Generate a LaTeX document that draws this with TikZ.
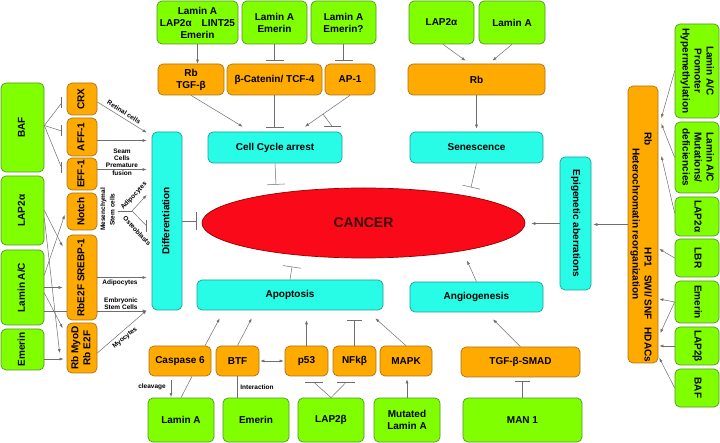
\documentclass[tikz,border=0pt]{standalone}
\usepackage{fontspec}
\setmainfont{Liberation Sans}
\usetikzlibrary{arrows.meta,calc,shapes.geometric}
\definecolor{gfill}{RGB}{128,255,0}
\definecolor{gdraw}{RGB}{85,150,40}
\definecolor{ofill}{RGB}{255,170,0}
\definecolor{odraw}{RGB}{170,115,30}
\definecolor{cfill}{RGB}{40,252,230}
\definecolor{cdraw}{RGB}{30,160,150}
\definecolor{rfill}{RGB}{250,10,25}
\definecolor{rdraw}{RGB}{150,0,0}
\definecolor{lcol}{RGB}{110,110,110}
\definecolor{ctext}{RGB}{60,10,10}
\newcommand{\RotL}[1]{\rotatebox{90}{\begin{tabular}{@{}c@{}}#1\end{tabular}}}
\newcommand{\RotR}[1]{\rotatebox{-90}{\begin{tabular}{@{}c@{}}#1\end{tabular}}}
\begin{document}
\begin{tikzpicture}[x=1pt,y=-1pt,
  box/.style={rounded corners=5pt, line width=0.7pt, inner sep=1pt, align=center,
    font=\fontsize{10}{12}\selectfont\bfseries, text=black},
  gbox/.style={box, fill=gfill, draw=gdraw},
  obox/.style={box, fill=ofill, draw=odraw},
  cbox/.style={box, fill=cfill, draw=cdraw},
  txt/.style={inner sep=0pt, font=\fontsize{10}{12}\selectfont\bfseries},
  lbl/.style={inner sep=0pt, align=center, font=\fontsize{6.5}{7.2}\selectfont\bfseries},
  conn/.style={draw=lcol, line width=0.5pt},
  arr/.style={conn, -{Latex[length=4pt,width=3pt]}},
  arrb/.style={conn, {Latex[length=4pt,width=3pt]}-{Latex[length=4pt,width=3pt]}},
  inh/.style={conn, -{Bar[width=18pt]}},
  inhs/.style={conn, -{Bar[width=15pt]}}]
\fill[white] (0,0) rectangle (720,443);
\useasboundingbox (0,0) rectangle (720,443);

% ---- top row
\node[gbox, minimum width=81pt, minimum height=43pt] (g1) at (197.5,22.5) {Lamin A\\LAP2α\quad LINT25\\Emerin};
\node[gbox, minimum width=65pt, minimum height=43pt] (g2) at (274.5,22.5) {Lamin A\\Emerin};
\node[gbox, minimum width=65pt, minimum height=43pt] (g3) at (343.5,22.5) {Lamin A\\Emerin?};
\node[gbox, minimum width=65pt, minimum height=43pt] (g4) at (441.5,22.5) {LAP2α};
\node[gbox, minimum width=66pt, minimum height=43pt] (g5) at (512,22.5) {Lamin A};

\node[obox, minimum width=66pt, minimum height=31pt] (o1) at (191,79.5) {Rb\\TGF-β};
\node[obox, minimum width=95pt, minimum height=31pt] (o2) at (274.5,79.5) {β-Catenin/ TCF-4};
\node[obox, minimum width=50pt, minimum height=31pt] (o3) at (350,79.5) {AP-1};
\node[obox, minimum width=137pt, minimum height=31pt] (o4) at (476.5,79.5) {Rb};

% ---- cyan processes
\node[cbox, minimum width=134pt, minimum height=31pt] (cca) at (275,147.5) {Cell Cycle arrest};
\node[cbox, minimum width=133pt, minimum height=31pt] (sen) at (476.5,147.5) {Senescence};
\node[cbox, minimum width=30pt, minimum height=178pt] (diff) at (167,221) {\RotL{Differentiation}};
\node[cbox, minimum width=31pt, minimum height=133pt] (epi) at (575.5,223.5) {\RotR{Epigenetic aberrations}};
\node[cbox, minimum width=186pt, minimum height=30pt] (apo) at (290,295) {Apoptosis};
\node[cbox, minimum width=133pt, minimum height=30pt] (ang) at (476.5,297) {Angiogenesis};

\node[ellipse, fill=rfill, draw=rdraw, line width=0.7pt, minimum width=323pt, minimum height=70pt, inner sep=0pt,
  font=\fontsize{14}{16}\selectfont\bfseries, text=ctext] (cancer) at (363.5,223) {CANCER};

% ---- bottom
\node[obox, minimum width=62pt, minimum height=30pt] (cas) at (180,361) {Caspase 6};
\node[obox, minimum width=43pt, minimum height=30pt] (btf) at (237.5,361) {BTF};
\node[obox, minimum width=43pt, minimum height=30pt] (p53) at (306.5,361) {p53};
\node[obox, minimum width=43pt, minimum height=30pt] (nfk) at (354.5,361) {NFkβ};
\node[obox, minimum width=52pt, minimum height=30pt] (mapk) at (406,361) {MAPK};
\node[obox, minimum width=119pt, minimum height=30pt] (tgf) at (520.5,362) {TGF-β-SMAD};

\node[gbox, minimum width=66pt, minimum height=44pt] (bla) at (181,420) {Lamin A};
\node[gbox, minimum width=66pt, minimum height=44pt] (bem) at (256,420) {Emerin};
\node[gbox, minimum width=66pt, minimum height=44pt] (bl2b) at (331,420) {LAP2β};
\node[gbox, minimum width=66pt, minimum height=44pt] (bmut) at (407,420) {Mutated\\Lamin A};
\node[gbox, minimum width=119pt, minimum height=44pt] (man) at (522.5,420) {MAN 1};

% ---- left
\node[gbox, minimum width=43pt, minimum height=89pt] (lbaf) at (22.5,127.5) {\RotL{BAF}};
\node[gbox, minimum width=43pt, minimum height=69pt] (llap) at (22.5,210.5) {\RotL{LAP2α}};
\node[gbox, minimum width=43pt, minimum height=75pt] (llac) at (22.5,287.5) {\RotL{Lamin A/C}};
\node[gbox, minimum width=43pt, minimum height=41pt] (lem) at (22.5,349.5) {\RotL{Emerin}};

\node[obox, minimum width=30pt, minimum height=32pt] (crx) at (82,99) {\RotL{CRX}};
\node[obox, minimum width=30pt, minimum height=38pt] (aff) at (82,137) {\RotL{AFF-1}};
\node[obox, minimum width=30pt, minimum height=32pt] (eff) at (82,174) {\RotL{EFF-1}};
\node[obox, minimum width=30pt, minimum height=37pt] (notch) at (82,211.5) {\RotL{Notch}};
\node[obox, minimum width=30pt, minimum height=85pt] (srebp) at (82,277.5) {\RotL{RbE2F SREBP-1}};
\node[obox, minimum width=30pt, minimum height=50pt] (myod) at (82,348) {\RotL{Rb MyoD\\Rb E2F}};

% ---- right
\node[gbox, minimum width=44pt, minimum height=94pt] (r1) at (697,71) {\RotR{Lamin A/C\\Promoter\\Hypermethylation}};
\node[gbox, minimum width=44pt, minimum height=71pt] (r2) at (697,157.5) {\RotR{Lamin A/C\\Mutations/\\deficiencies}};
\node[gbox, minimum width=44pt, minimum height=39pt] (r3) at (697,216.5) {\RotR{LAP2α}};
\node[gbox, minimum width=44pt, minimum height=38pt] (r4) at (697,258) {\RotR{LBR}};
\node[gbox, minimum width=44pt, minimum height=42pt] (r5) at (697,302) {\RotR{Emerin}};
\node[gbox, minimum width=44pt, minimum height=38pt] (r6) at (697,346) {\RotR{LAP2β}};
\node[gbox, minimum width=44pt, minimum height=38pt] (r7) at (697,388) {\RotR{BAF}};

\node[obox, minimum width=30pt, minimum height=277pt] (rtall) at (643,224.5) {};
\node[txt] (rtrb) at (647,139) {\RotR{Rb}};
\node[txt] (rthet) at (635,224) {\RotR{Heterochromatin reorganization}};
\node[txt] (rthp) at (647,305) {\RotR{HP1\hspace{8pt}SWI/ SNF\hspace{8pt}HDACs}};

% ---- labels
\node[lbl, rotate=-32] (lret) at (124,112) {Retinal cells};
\node[lbl] (lseam) at (122,162) {Seam\\Cells\\Premature\\fusion};
\node[lbl] (mes) at (108,209.5) {\fontsize{6.5}{9.5}\selectfont\RotL{Mesenchymal\\Stem cells}};
\node[lbl, rotate=47] (ladip1) at (134,196) {Adipocytes};
\node[lbl, rotate=-47] (lost) at (137,231) {Osteoblasts};
\node[lbl] (ladip2) at (120,283) {Adipocytes};
\node[lbl] (lemb) at (121,304) {Embryonic\\Stem Cells};
\node[lbl, rotate=40] (lmyo) at (125,338) {Myocytes};
\node[lbl] (lint) at (257,387) {Interaction};
\node[lbl] (lclv) at (152,387) {cleavage};

% ---- top connectors
\draw[arr] (g1.south) -- (g1.south |- o1.north);
\draw[inh] (g2.south) -- ([yshift=3pt]g2.south |- o2.north);
\draw[inh] (g3.south) -- ([yshift=3pt]g3.south |- o3.north);
\draw[arr] ([xshift=1.5pt]g4.south) -- ([xshift=-11pt,yshift=3pt]o4.north);
\draw[arr] (g5.south) -- ([xshift=16pt,yshift=3pt]o4.north);
\draw[arr] (o1.south) -- ([xshift=35pt,yshift=5pt]cca.north west);
\draw[inh] (o2.south) -- ([yshift=4pt]o2.south |- cca.north);
\draw[arr] (o3.south) -- coordinate[pos=0.6] (apb) ([xshift=30pt,yshift=5pt]cca.north);
\coordinate (ape) at ($(apb)+(9,12)$);
\draw[conn] (apb) -- (ape);
\draw[conn] ([xshift=-8.5pt]ape) -- ([xshift=8.5pt]ape);
\draw[inh] (cca.south) -- ([xshift=1pt,yshift=3pt]cca.south |- cancer.north);
\draw[arr] (o4.south) -- ([yshift=3pt]o4.south |- sen.north);
\draw[inh] (sen.south) -- ([xshift=-5.5pt,yshift=-24pt]sen.south);
\draw[inh] (diff.east) -- ([xshift=-5pt]diff.east -| cancer.west);
\draw[inh] (apo.north) -- ([xshift=2pt,yshift=13pt]apo.north);
\draw[arr] (ang.north) -- ([xshift=-9.5pt,yshift=21pt]ang.north);
\draw[arr] (rtall.west) -- ([xshift=2pt]rtall.west -| epi.east);
\draw[arr] (epi.west) -- ([xshift=6pt]epi.west -| cancer.east);

% ---- right connectors
\draw[arr] (r1.west) -- ([xshift=3pt,yshift=106.5pt]rtall.east);
\draw[arr] (r2.west) -- ([xshift=3pt,yshift=100.5pt]rtall.east);
\draw[arr] ([yshift=3.5pt]r3.west) -- ([xshift=3pt,yshift=68.5pt]rtall.east);
\draw[arr] (r4.west) -- ([xshift=1pt,yshift=-24.5pt]rtall.east);
\draw[arr] (r5.west) -- ([xshift=1pt,yshift=-74.5pt]rtall.east);
\draw[arr] (r5.west) -- ([xshift=2pt,yshift=-108.5pt]rtall.east);
\draw[arr] (r6.west) -- ([xshift=1pt,yshift=-121.5pt]rtall.east);
\draw[arr] (r7.west) -- ([xshift=1pt,yshift=-133.5pt]rtall.east);

% ---- bottom connectors
\draw[arr] ([xshift=25pt]cas.north) -- ([xshift=23pt,yshift=-8pt]apo.south west);
\draw[arr] (btf.north) -- ([xshift=55pt,yshift=-8pt]apo.south west);
\draw[arr] (p53.north) -- ([yshift=-10pt]p53.north |- apo.south);
\draw[inhs] (nfk.north) -- ([yshift=-10pt]nfk.north |- apo.south);
\draw[arr] (mapk.north) -- ([xshift=-8pt,yshift=-8pt]apo.south east);
\draw[arrb, shorten <=1pt, shorten >=1pt] (btf.east) -- (p53.west);
\draw[conn] (btf.south) -- (btf.south |- bem.north);
\coordinate (b1) at ([xshift=7.5pt,yshift=-6pt]p53.south);
\coordinate (b2) at ([xshift=-8.5pt,yshift=-6pt]nfk.south);
\draw[conn] (bl2b.north) -- (b1);
\draw[conn] (bl2b.north) -- (b2);
\draw[conn] ([xshift=-9pt]b1) -- ([xshift=9pt]b1);
\draw[conn] ([xshift=-9pt]b2) -- ([xshift=9pt]b2);
\draw[arr] (bmut.north) -- ([yshift=-3pt]bmut.north |- mapk.south);
\draw[conn] (bla.north) -- ([xshift=12pt]cas.south);
\coordinate (cl1) at (171,380);
\coordinate (cl2) at (171,397);
\draw[arr] (cl1) -- (cl2);
\draw[arr] (tgf.north) -- ([xshift=16.5pt,yshift=-7pt]ang.south);
\draw[inhs] (man.north) -- ([yshift=-4pt]man.north |- tgf.south);

% ---- left connectors
\coordinate (bs) at ([yshift=2pt]lbaf.east);
\coordinate (t1) at ([xshift=-5pt,yshift=-4pt]crx.west);
\coordinate (t2) at ([xshift=-5pt,yshift=6pt]aff.west);
\coordinate (t3) at ([xshift=-5pt,yshift=6pt]eff.west);
\foreach \t in {t1,t2,t3}{
  \draw[conn] (bs) -- (\t);
  \draw[conn] ([yshift=5.5pt]\t) -- ([yshift=-5.5pt]\t);
}
\draw[arr] (llap.east) -- ([xshift=-4pt,yshift=31pt]srebp.west);
\draw[arr] ([yshift=-7.5pt]llap.east) -- ([xshift=-7pt,yshift=-5pt]myod.west);
\draw[arr] ([yshift=12.5pt]llac.east) -- ([xshift=-2pt,yshift=-3.5pt]notch.west);
\draw[arr] (llac.east) -- ([xshift=-4pt]llac.east -| srebp.west);
\draw[conn] ([yshift=-23.5pt]llac.east) -- ([yshift=-23.5pt]llac.east -| srebp.west);
\draw[arr] ([yshift=-5.5pt]llac.east) -- ([xshift=-4pt,yshift=20pt]myod.west);
\draw[arr] ([yshift=-9.5pt]lem.east) -- ([xshift=-3pt,yshift=-9.5pt]lem.east -| myod.west);

\draw[arr] ([yshift=-3pt]crx.east) -- ([xshift=-5pt,yshift=-1pt]diff.north west);
\draw[arr] ([yshift=-3.5pt]aff.east) -- ([xshift=-5pt,yshift=-3.5pt]aff.east -| diff.west);
\draw[arr] ([yshift=4.5pt]eff.east) -- ([xshift=-5pt,yshift=4.5pt]eff.east -| diff.west);
\coordinate (yj) at (132,211);
\draw[conn] (mes.east |- yj) -- (yj);
\draw[arr] (yj) -- ([xshift=-5pt,yshift=16pt]yj -| diff.west);
\draw[conn] (yj) -- ([xshift=-5pt,yshift=-15pt]yj -| diff.west) coordinate (ost);
\draw[conn] ([yshift=6pt]ost) -- ([yshift=-6pt]ost);
\draw[arr] (srebp.east) -- ([xshift=-5pt]srebp.east -| diff.west);
\draw[arr] ([yshift=-33.5pt]srebp.east) -- ([xshift=-5pt,yshift=-33.5pt]srebp.east -| diff.west);
\draw[arr] ([yshift=-5pt]myod.east) -- ([xshift=-5pt]diff.south west);
\end{tikzpicture}
\end{document}
